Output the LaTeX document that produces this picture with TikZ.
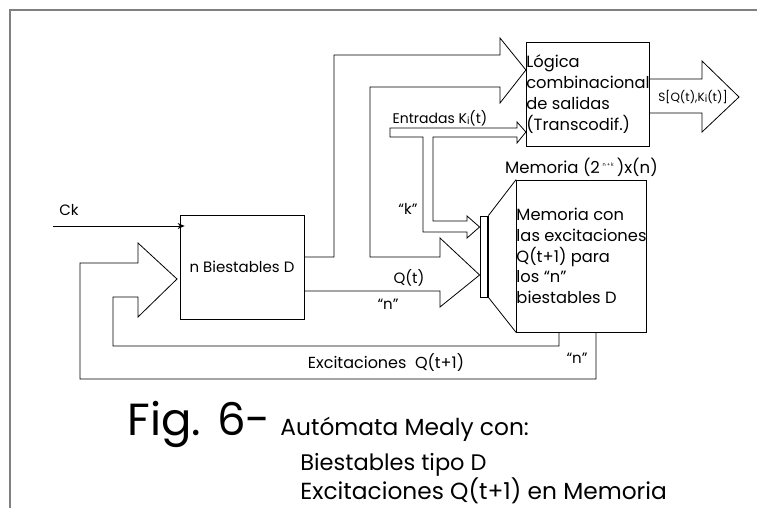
\documentclass[tikz,border=0pt]{standalone}
\usepackage{fontspec}
\setmainfont{Poppins}
\usetikzlibrary{arrows.meta,positioning,calc}
\newcommand{\lblfont}{\fontsize{15}{18}\selectfont}
\newcommand{\boxfont}{\fontsize{16.3}{20.8}\selectfont}
\newcommand{\Ki}{K\raisebox{-0.8pt}{\fontsize{10}{10}\selectfont i}}
\tikzset{
  blk/.style={draw,inner sep=0pt,align=left,font=\boxfont},
  lbl/.style={inner sep=0pt,font=\lblfont},
  bus/.style={draw,line join=miter},
  captxt/.style={anchor=base west,inner sep=0pt,font=\fontsize{23.3}{24}\selectfont},
}

\begin{document}
\begin{tikzpicture}[x=1pt,y=-1pt,line width=0.8pt]
  \useasboundingbox (0,0) rectangle (757,508);
  \draw[black!50,line width=1.5pt] (10,508) -- (10,10) -- (757,10);

  % bloques
  \node[blk,font=\lblfont,minimum width=124pt,minimum height=104pt] (biest) at (242,267) {n Biestables D};
  \node[blk,minimum width=122pt,minimum height=104pt] (logica) at (588,94)
    {Lógica\\combinacional\\de salidas\\(Transcodif.)};
  \node[blk,minimum width=127pt,minimum height=152pt] (mem) at (581.5,256)
    {Memoria con\\las excitaciones\\Q(t+1) para\\los “n”\\biestables D};
  \node[draw,inner sep=0pt,minimum width=8pt,minimum height=81pt] (dec) at (484,256.5) {};
  \draw[line width=2pt] (dec.north east) -- (dec.south east);
  \draw (dec.north east) -- (mem.north west);
  \draw (dec.south east) -- (mem.south west);
  \node[lbl,font=\fontsize{16.5}{16.5}\selectfont,above=3pt of mem] (memlbl)
    {Memoria (2\,\textsuperscript{\fontsize{5}{5}\selectfont n\,+\,k}\,)x(n)};

  % Q(t) hacia la logica y la memoria
  \draw[bus] (biest.east |- 0,257) -- (334,257) -- (334,55) -- (500,55) -- (500,38)
    -- (logica.west |- 0,70) -- (500,103) -- (500,87) -- (370,87) -- (370,257)
    -- (440,257) -- (440,238) -- (dec.west |- 0,275) -- (440,307) -- (440,291)
    -- (biest.east |- 0,291);

  % entradas
  \draw[bus] (390,128) -- (517,128) -- (517,122) -- (logica.west |- 0,132) -- (517,143)
    -- (517,137) -- (433,137) -- (433,221) -- (467,221) -- (467,216)
    -- (dec.west |- 0,227) -- (467,238) -- (467,232) -- (423,232) -- (423,137)
    -- (390,137) -- cycle;

  % salidas
  \draw[bus] (logica.east |- 0,79) -- (702,79) -- (702,61) -- (739,97) -- (702,132)
    -- (702,113) -- (logica.east |- 0,113);

  % realimentacion
  \draw[bus] (mem.south -| 596,0) -- (596,379) -- (80,379) -- (80,263) -- (138,263)
    -- (138,243) -- (177,279) -- (138,317) -- (138,297) -- (113,297) -- (113,346)
    -- (559,346) -- (mem.south -| 559,0);

  % reloj
  \coordinate (ck) at (53,226);
  \draw[-{Stealth[length=7pt,width=6pt]}] (ck) -- ($(biest.west |- ck)+(5,0)$);
  \node[lbl] (cklbl) at (69,210) {Ck};

  \node[lbl,font=\fontsize{14}{14}\selectfont] (entr) at (440,118) {Entradas \Ki(t)};
  \node[lbl] (kq) at (408,209) {“k”};
  \node[lbl] (qt) at (409,278) {Q(t)};
  \node[lbl] (nq) at (388,304) {“n”};
  \node[lbl,font=\fontsize{16}{16}\selectfont] (exc) at (386,363) {Excitaciones\ \ Q(t+1)};
  \node[lbl] (nq2) at (577,358) {“n”};
  \node[lbl,font=\fontsize{12}{12}\selectfont] (sal) at (693,97) {S[Q(t),\Ki(t)]};

  % pie
  \node[captxt,font=\fontsize{45}{45}\selectfont] (fig) at (127,435) {Fig. 6-};
  \node[captxt] (cap1) at (280,435) {Autómata Mealy con:};
  \node[captxt,font=\fontsize{22.5}{24}\selectfont] (cap2) at (300,470) {Biestables tipo D};
  \node[captxt] (cap3) at (300,499) {Excitaciones Q(t+1) en Memoria};
\end{tikzpicture}
\end{document}
